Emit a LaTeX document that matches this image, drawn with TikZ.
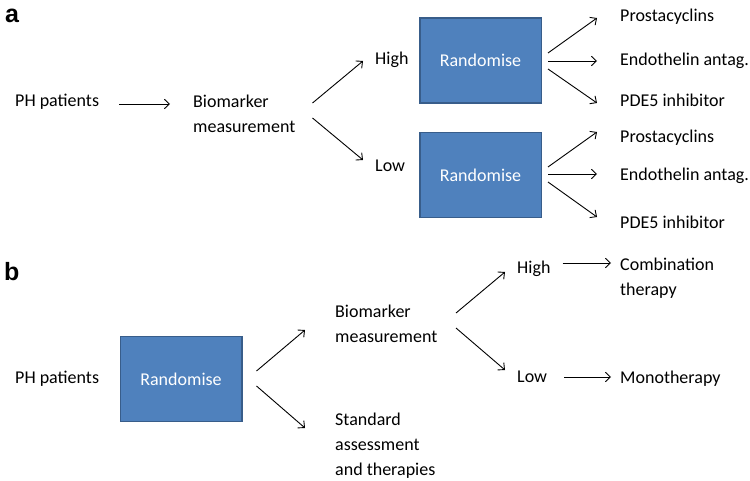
\documentclass[tikz,border=0pt]{standalone}
\usepackage{fontspec}
\setmainfont{Carlito}
\newfontfamily\labfont{Liberation Sans}
\usetikzlibrary{arrows.meta,calc}
\definecolor{boxfill}{HTML}{4F81BD}
\definecolor{boxline}{HTML}{385D8A}
\begin{document}
\begin{tikzpicture}[x=1pt,y=-1pt,
  txt/.style={inner sep=0pt, font=\fontsize{18}{25}\selectfont, anchor=base west},
  mtxt/.style={inner sep=0pt, font=\fontsize{18}{25}\selectfont, align=left, anchor=west},
  randbox/.style={draw=boxline, fill=boxfill, line width=1.5pt, minimum width=121.5pt, minimum height=85pt, text=white, font=\fontsize{18}{25}\selectfont, inner sep=0pt},
  arr/.style={-{Straight Barb[length=5pt,width=9.5pt]}, line width=0.9pt},
  panel/.style={inner sep=0pt, anchor=base west, font=\labfont\bfseries\fontsize{25}{30}\selectfont}]
\useasboundingbox (0,0) rectangle (750,481);

% ---------- panel a ----------
\node[panel] (pa) at (5,23) {a};
\node[txt] (pha) at (15,107) {PH patients};
\node[mtxt] (bma) at (193,113.8) {Biomarker\\measurement};
\node[txt] (hia) at (375,65) {High};
\node[txt] (loa) at (375,172) {Low};
\node[randbox] (ra1) at (480.5,60.5) {Randomise};
\node[randbox] (ra2) at (480.5,175) {Randomise};
\node[txt] (pro1) at (620,22) {Prostacyclins};
\node[txt] (end1) at (620,66) {Endothelin antag.};
\node[txt] (pde1) at (620,107) {PDE5 inhibitor};
\node[txt] (pro2) at (620,143) {Prostacyclins};
\node[txt] (end2) at (620,181) {Endothelin antag.};
\node[txt] (pde2) at (620,229) {PDE5 inhibitor};

\draw[arr] ($(pha.base east)+(20,-3)$) -- ($(bma.west)+(-23,-9.8)$);
\draw[arr] ($(bma.east)+(17,-10.8)$) -- ($(hia.base west)+(-12,-4)$);
\draw[arr] ($(bma.east)+(17,4.2)$) -- ($(loa.base west)+(-12,-12)$);
\draw[arr] ($(ra1.east)+(6,-7.5)$) -- ($(pro1.base west)+(-23,-4)$);
\draw[arr] ($(ra1.east)+(6,0.5)$) -- ($(end1.base west)+(-23,-5)$);
\draw[arr] ($(ra1.east)+(6,8.5)$) -- ($(pde1.base west)+(-23,-4)$);
\draw[arr] ($(ra2.east)+(6,-8)$) -- ($(pro2.base west)+(-23,-11)$);
\draw[arr] ($(ra2.east)+(6,-1)$) -- ($(end2.base west)+(-23,-7)$);
\draw[arr] ($(ra2.east)+(6,7)$) -- ($(pde2.base west)+(-23,-12)$);

% ---------- panel b ----------
\node[panel] (pb) at (4,280) {b};
\node[txt] (phb) at (15,383) {PH patients};
\node[randbox] (rb) at (181,379) {Randomise};
\node[mtxt] (bmb) at (335,324.3) {Biomarker\\measurement};
\node[mtxt] (std) at (335,446) {Standard\\assessment\\and therapies};
\node[txt] (hib) at (517,274) {High};
\node[txt] (lob) at (517,382) {Low};
\node[mtxt] (comb) at (620,278.5) {Combination\\therapy};
\node[txt] (mono) at (620,383) {Monotherapy};

\draw[arr] ($(rb.east)+(14,-8)$) -- ($(bmb.west)+(-30,5.7)$);
\draw[arr] ($(rb.east)+(14,7)$) -- ($(std.west)+(-30,-18)$);
\draw[arr] ($(bmb.east)+(18.5,-11.3)$) -- ($(hib.base west)+(-12,-2)$);
\draw[arr] ($(bmb.east)+(18.5,3.7)$) -- ($(lob.base west)+(-12,-12)$);
\draw[arr] ($(hib.base east)+(12,-11)$) -- ($(comb.west)+(-9,-15.5)$);
\draw[arr] ($(lob.base east)+(17,-5)$) -- ($(mono.base west)+(-9,-6)$);
\end{tikzpicture}
\end{document}
